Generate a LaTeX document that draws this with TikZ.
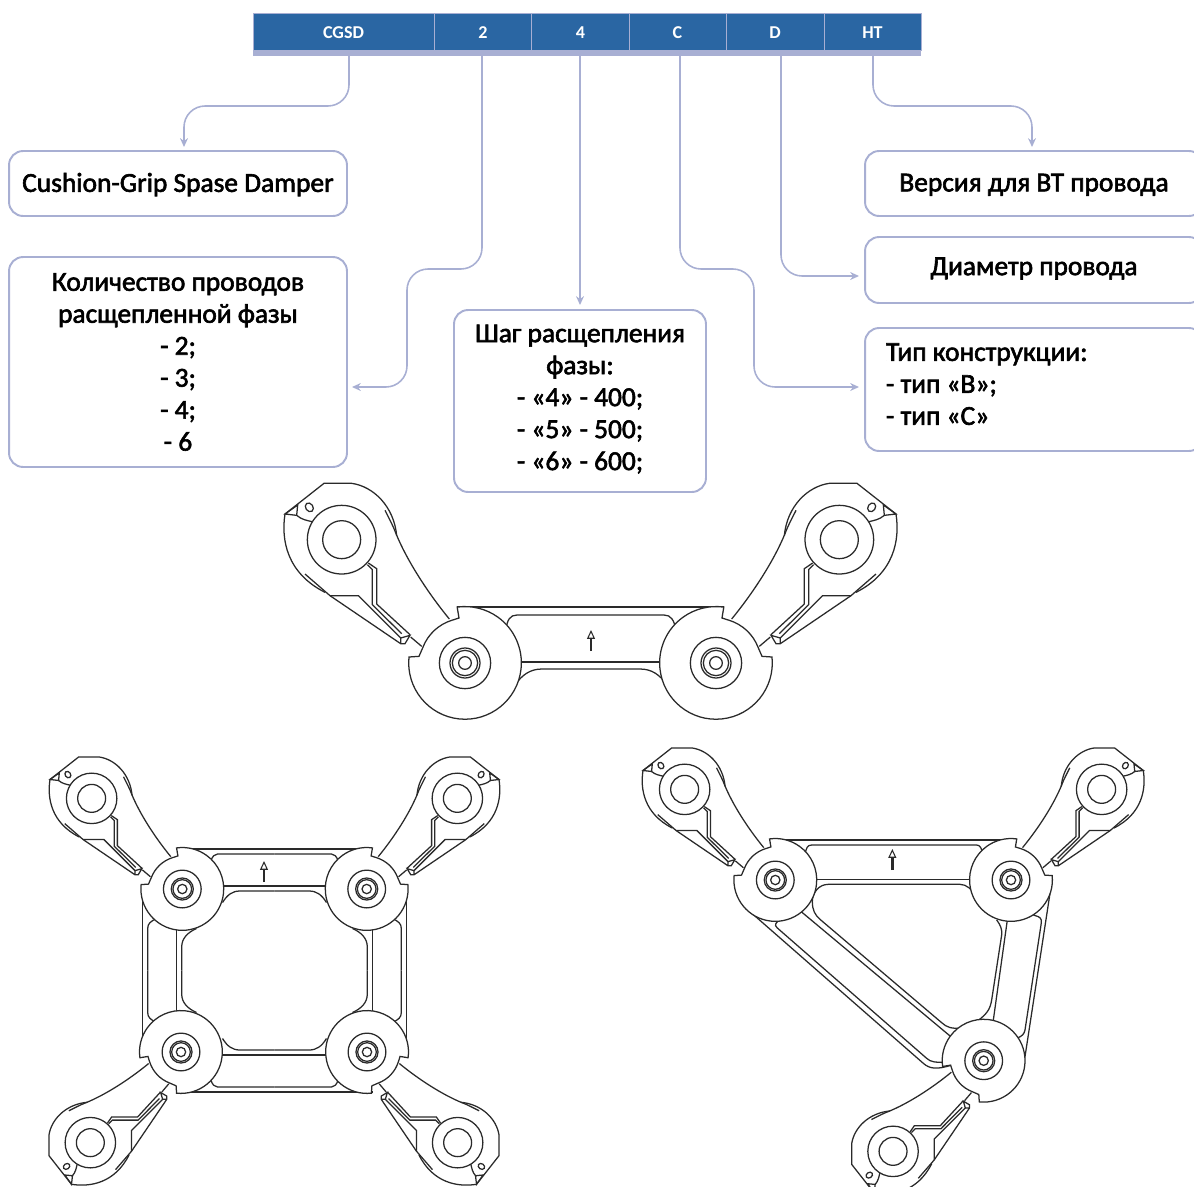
\documentclass[tikz,border=0pt]{standalone}
\usepackage{fontspec}
\setmainfont{Carlito}
\newfontfamily\boxfont[FakeBold=2.2]{Carlito}
\usetikzlibrary{arrows.meta}
\definecolor{headblue}{HTML}{2A66A3}
\definecolor{linkblue}{HTML}{A8AFD3}
\definecolor{inkgray}{HTML}{2A2A2A}
\tikzset{
	cellbox/.style={draw=linkblue, line width=0.5pt, fill=headblue, text=white, minimum height=0.74cm, inner sep=0pt, text height=8.5pt, font=\fontsize{10.3}{12}\selectfont\bfseries},
	textbox/.style={draw=linkblue, line width=1.1pt, rounded corners=8pt, fill=white, minimum width=6.76cm, align=center, inner sep=0pt, font=\fontsize{15.6}{18.2}\selectfont\boxfont},
	link/.style={draw=linkblue, line width=0.9pt, rounded corners=12pt, -{Stealth[length=5pt,width=4.5pt]}},
	partline/.style={draw=inkgray, line width=0.72pt},
	dirarrow/.style={draw=inkgray, line width=1.4pt, -{Triangle[open,length=5pt,width=4.5pt,line width=0.6pt]}},
	pics/hubarm/.style={code={
		\begin{scope}[scale=1/3, shift={(-585,-580)}]
			\draw[partline] (45,133) -- (162,41) -- (245,41) .. controls (310,50) and (372,110) .. (380,198);
			\draw[partline] (345,122) .. controls (358,148) and (370,170) .. (378,192) .. controls (410,270) and (470,365) .. (538,448);
			\draw[partline] (45,133) .. controls (33,210) and (50,310) .. (165,368);
			\draw[partline] (105,313) -- (180,378) -- (392,522) -- (405,522) -- (420,497) -- (392,505) -- (392,522);
			\draw[partline] (180,378) -- (265,378) -- (392,505);
			\draw[partline] (295,280) -- (320,297) -- (320,403) -- (420,495);
			\draw[partline] (292,285) -- (307,300) -- (307,405) -- (395,492);
			\draw[partline] (422,502) -- (455,530);
			\draw[partline] (45,133) -- (83,106) -- (80,137) -- cycle;
			\draw[partline] (80,137) .. controls (95,150) and (110,152) .. (130,157);
			\draw[partline, rotate around={-55:(118,113)}] (118,113) ellipse (14 and 11);
			\draw[partline, fill=white] (215,210) circle (103);
			\draw[partline] (215,210) circle (57);
			\draw[partline, fill=white] (417,562) arc[start angle=186, end angle=-98, radius=169] -- (567,445) -- (545,452) arc[start angle=252.6, end angle=201, radius=136] -- (447,560) -- cycle;
			\draw[partline] (585,580) circle (77);
			\draw[partline] (585,580) circle (45);
			\draw[partline] (585,580) circle (38);
			\draw[partline] (585,580) circle (19);
		\end{scope}
	}}
}

\begin{document}
\begin{tikzpicture}[x=0.02cm, y=-0.02cm]
	\clip (0,0) rectangle (1194,1187);

	\node[cellbox, minimum width=3.62cm] (cgsd) at (343.5,31.5) {CGSD};
	\node[cellbox, minimum width=1.95cm] (two) at (483,31.5) {2};
	\node[cellbox, minimum width=1.95cm] (four) at (580.5,31.5) {4};
	\node[cellbox, minimum width=1.94cm] (type) at (677.5,31.5) {C};
	\node[cellbox, minimum width=1.96cm] (diam) at (775,31.5) {D};
	\node[cellbox, minimum width=1.94cm] (volt) at (872.5,31.5) {HT};

	\node[textbox, minimum height=1.3cm, text height=12pt] (cushion) at (178,183.5) {Cushion-Grip Spase Damper};
	\node[textbox, minimum height=4.2cm] (wires) at (178,362) {Количество проводов\\расщепленной фазы\\- 2;\\- 3;\\- 4;\\- 6};
	\node[textbox, minimum width=5.04cm, minimum height=3.64cm] (pitch) at (580,401) {Шаг расщепления\\фазы:\\- «4» - 400;\\- «5» - 500;\\- «6» - 600;\\[-14pt]\mbox{}};
	\node[textbox, minimum height=1.3cm, text height=11.5pt] (version) at (1034,183.5) {Версия для ВТ провода};
	\node[textbox, minimum height=1.32cm, text depth=4.2pt] (diameter) at (1034,270) {Диаметр провода};
	\node[textbox, minimum height=2.46cm, align=flush left, text width=5.92cm] (design) at (1034,389.5) {Тип конструкции:\\- тип «В»;\\- тип «С»\\[-12pt]\mbox{}};

	\coordinate (cushionin) at (184,147);
	\coordinate (wiresin) at (352,387);
	\coordinate (pitchin) at (580,305);
	\coordinate (versionin) at (1032,147);
	\coordinate (diameterin) at (859,276);
	\coordinate (designin) at (859,387);

	\draw[link] (349,0 |- cgsd.south) -- (349,106) -- (184,106) -- (cushionin);
	\draw[link] (482,0 |- two.south) -- (482,269) -- (407,269) -- (407,387) -- (wiresin);
	\draw[link] (580,0 |- four.south) -- (pitchin);
	\draw[link] (680,0 |- type.south) -- (680,269) -- (754,269) -- (754,387) -- (designin);
	\draw[link] (781,0 |- diam.south) -- (781,276) -- (diameterin);
	\draw[link] (873,0 |- volt.south) -- (873,106) -- (1032,106) -- (versionin);

	\node[fill=linkblue, minimum width=13.38cm, minimum height=0.12cm, inner sep=0pt] (band) at (587,53) {};

	% two wires
	\draw[partline] (457,607) -- (724,607);
	\draw[partline] (506,630) .. controls (507,620) and (510,615) .. (517,615) -- (664,615) .. controls (671,615) and (674,620) .. (676,630);
	\draw[partline] (515,662) -- (667,662);
	\draw[partline] (515,685) .. controls (522,675) and (530,669) .. (542,669) -- (640,669) .. controls (652,669) and (660,675) .. (667,685);
	\draw[dirarrow] (591,651) -- (591,630);
	\pic at (465,663) {hubarm};
	\pic[xscale=-1] at (716,663) {hubarm};

	% four wires
	\foreach \sx/\sy in {1/1,-1/1,1/-1,-1/-1}{
		\begin{scope}[shift={(274.5,970.5)}, xscale=\sx, yscale=\sy]
			\draw[partline] (-98,-121.5) -- (0,-121.5);
			\draw[partline] (-131.8,-70) -- (-131.8,0);
			\draw[partline] (-63.5,-110) .. controls (-62,-114) and (-60,-116.5) .. (-57,-116.5) -- (0,-116.5);
			\draw[partline] (-60,-84.5) -- (0,-84.5);
			\draw[partline] (-52,-68) .. controls (-47,-76) and (-42,-79.5) .. (-34.5,-79.5) -- (0,-79.5);
			\draw[partline] (-118,-52) .. controls (-124,-49) and (-126.8,-47) .. (-126.8,-42) -- (-126.8,0);
			\draw[partline] (-97.8,-50) -- (-97.8,0);
			\draw[partline] (-78,-42) .. controls (-87,-38) and (-92.8,-32) .. (-92.8,-23.5) -- (-92.8,0);
		\end{scope}
	}
	\draw[dirarrow] (264,882) -- (264,861);
	\pic[scale=0.735] at (182.3,889) {hubarm};
	\pic[scale=0.735, xscale=-1] at (366.7,889) {hubarm};
	\pic[scale=0.735, rotate=90] at (181,1052) {hubarm};
	\pic[scale=0.735, xscale=-1, rotate=90] at (367,1052) {hubarm};

	% three wires
	\begin{scope}[shift={(720,830)}, scale=1/3]
		\draw[partline] (148,30) -- (890,30);
		\draw[partline] (255,75) .. controls (258,55) and (262,45) .. (275,45) -- (770,45) .. controls (780,45) and (785,55) .. (790,75);
		\draw[partline] (280,148) -- (760,148);
		\draw[partline] (770,200) .. controls (755,178) and (740,163) .. (720,163) -- (325,163) .. controls (295,163) and (277,190) .. (277,215) .. controls (277,240) and (285,255) .. (300,268) -- (665,578) .. controls (680,592) and (695,597) .. (725,594);
		\draw[partline] (240,242) -- (695,622);
		\draw[partline] (180,270) .. controls (170,275) and (160,285) .. (172,294) -- (620,685) .. controls (632,696) and (645,698) .. (680,696);
		\draw[partline] (90,245) -- (610,700) .. controls (628,716) and (650,720) .. (695,705);
		\draw[partline] (990,190) -- (915,680);
		\draw[partline] (940,255) -- (955,260) .. controls (965,265) and (965,272) .. (963,285) -- (915,600) .. controls (912,612) and (908,618) .. (890,625);
		\draw[partline] (862,270) -- (820,570);
		\draw[partline] (830,270) .. controls (842,285) and (847,300) .. (845,315) -- (815,510) .. controls (810,540) and (800,552) .. (770,575);
		\draw[dirarrow] (517,120) -- (517,57);
	\end{scope}
	\pic[scale=0.735] at (775.3,880) {hubarm};
	\pic[scale=0.735, xscale=-1] at (1011,880) {hubarm};
	\pic[scale=0.735, rotate=90] at (983.7,1060.7) {hubarm};
\end{tikzpicture}
\end{document}
